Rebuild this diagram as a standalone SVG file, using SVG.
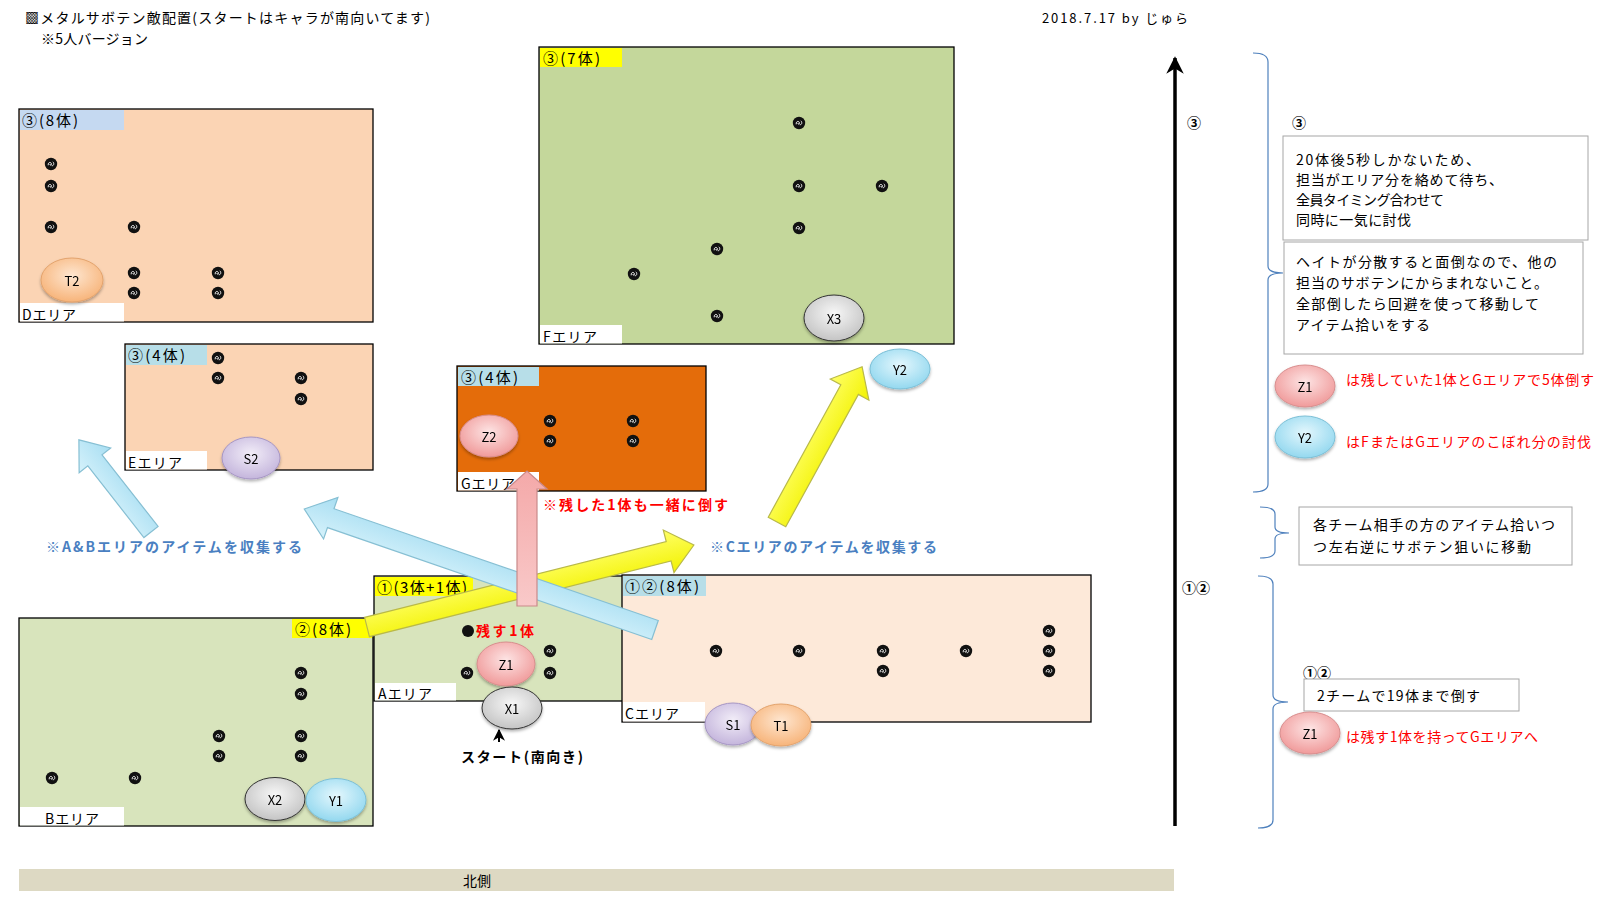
<svg xmlns="http://www.w3.org/2000/svg" xmlns:xlink="http://www.w3.org/1999/xlink" width="1598" height="898" viewBox="0 0 1598 898">
<style>
text{font-family:"Noto Sans CJK JP","Noto Sans",sans-serif;font-size:14px;fill:#000}
.area{stroke:#000;stroke-width:1.3}
.lbl{fill:#fff}
.hd{font-size:15px}
.ch{font-size:13px;text-anchor:middle;dominant-baseline:central}
.red{fill:#ff0000}
.blue{fill:#4a7fc1;font-weight:bold}
.box{fill:#fff;stroke:#a6a6a6;stroke-width:1}
.brace{fill:none;stroke:#4f81bd;stroke-width:1.2}
.note{font-size:14px}
</style>
<defs>
<g id="d"><circle r="6.2" fill="#111"/><path d="M-2.8,1.3 C-3.3,-2.2 0.6,-2.4 0.4,0.2 C0.3,1.8 -1.3,1.3 -1.1,0 M0.7,1.7 C3.1,2 3.3,-1.1 1.8,-2.2" fill="none" stroke="#fff" stroke-width="0.9"/></g>
<filter id="sh" x="-20%" y="-20%" width="140%" height="150%"><feDropShadow dx="0" dy="2" stdDeviation="1.5" flood-color="#000" flood-opacity="0.3"/></filter>
<radialGradient id="gPink" cx="50%" cy="40%" r="60%"><stop offset="0" stop-color="#fde4e4"/><stop offset="1" stop-color="#f09a9a"/></radialGradient>
<radialGradient id="gGray" cx="50%" cy="40%" r="60%"><stop offset="0" stop-color="#f7f7f7"/><stop offset="1" stop-color="#c4c4c4"/></radialGradient>
<radialGradient id="gBlue" cx="50%" cy="40%" r="60%"><stop offset="0" stop-color="#e4f7fd"/><stop offset="1" stop-color="#93d8ef"/></radialGradient>
<radialGradient id="gOrange" cx="50%" cy="40%" r="60%"><stop offset="0" stop-color="#fee6d0"/><stop offset="1" stop-color="#f7b47a"/></radialGradient>
<radialGradient id="gPurple" cx="50%" cy="40%" r="60%"><stop offset="0" stop-color="#f2edf8"/><stop offset="1" stop-color="#c4b5dc"/></radialGradient>
<linearGradient id="gY" x1="0" y1="0" x2="0" y2="1"><stop offset="0" stop-color="#ffff66"/><stop offset="1" stop-color="#f2f200"/></linearGradient>
<linearGradient id="gB" x1="0" y1="0" x2="0" y2="1"><stop offset="0" stop-color="#d6f2fb"/><stop offset="1" stop-color="#a8def2"/></linearGradient>
<linearGradient id="gP" x1="0" y1="0" x2="1" y2="0"><stop offset="0" stop-color="#f9c9c9"/><stop offset="1" stop-color="#f4a9a9"/></linearGradient>
<marker id="ah" viewBox="0 0 10 10" refX="9" refY="5" markerWidth="5" markerHeight="5" orient="auto"><path d="M0,0 L10,5 L0,10 L3,5 Z" fill="#000"/></marker>
<marker id="ahs" viewBox="0 0 10 10" refX="9" refY="5" markerWidth="6" markerHeight="6" orient="auto"><path d="M0,0 L10,5 L0,10 L3,5 Z" fill="#000"/></marker>
</defs>
<rect width="1598" height="898" fill="#fff"/>

<g id="title">
<text x="25" y="23" textLength="405" lengthAdjust="spacing">▩メタルサボテン敵配置(スタートはキャラが南向いてます)</text>
<text x="41" y="44" textLength="107" lengthAdjust="spacing">※5人バージョン</text>
<text x="1042" y="23" style="font-size:13px" textLength="146" lengthAdjust="spacing">2018.7.17 by じゅら</text>
</g>

<g id="area-D">
<rect class="area" x="19" y="109" width="354" height="213" fill="#fbd4b4"/>
<rect x="20" y="110" width="104" height="20" fill="#c5d9f1"/>
<text class="hd" x="22" y="126" textLength="56" lengthAdjust="spacing">③(8体)</text>
<rect class="lbl" x="20" y="303" width="104" height="18.5"/>
<text x="22" y="320" textLength="54" lengthAdjust="spacing">Dエリア</text>
<use href="#d" x="51" y="164"/><use href="#d" x="51" y="186"/><use href="#d" x="51" y="227"/><use href="#d" x="134" y="227"/>
<use href="#d" x="134" y="273"/><use href="#d" x="134" y="293"/><use href="#d" x="218" y="273"/><use href="#d" x="218" y="293"/>
</g>

<g id="area-E">
<rect class="area" x="125" y="344" width="248" height="126" fill="#fbd4b4"/>
<rect x="126" y="345" width="81" height="20" fill="#b7dee8"/>
<text class="hd" x="128" y="361" textLength="57" lengthAdjust="spacing">③(4体)</text>
<rect class="lbl" x="126" y="451" width="81" height="18.5"/>
<text x="128" y="468" textLength="54" lengthAdjust="spacing">Eエリア</text>
<use href="#d" x="218" y="358"/><use href="#d" x="218" y="378"/><use href="#d" x="301" y="378"/><use href="#d" x="301" y="399"/>
</g>

<g id="area-F">
<rect class="area" x="539" y="47" width="415" height="297" fill="#c4d79b"/>
<rect x="540" y="48" width="82" height="19" fill="#ffff00"/>
<text class="hd" x="543" y="64" textLength="57" lengthAdjust="spacing">③(7体)</text>
<rect class="lbl" x="540" y="325" width="82" height="18.5"/>
<text x="543" y="342" textLength="54" lengthAdjust="spacing">Fエリア</text>
<use href="#d" x="799" y="123"/><use href="#d" x="799" y="186"/><use href="#d" x="882" y="186"/><use href="#d" x="799" y="228"/>
<use href="#d" x="717" y="249"/><use href="#d" x="634" y="274"/><use href="#d" x="717" y="316"/>
</g>

<g id="area-G">
<rect class="area" x="457" y="366" width="249" height="125" fill="#e46c0a"/>
<rect x="458" y="367" width="81" height="19" fill="#b7dee8"/>
<text class="hd" x="461" y="383" textLength="57" lengthAdjust="spacing">③(4体)</text>
<rect class="lbl" x="458" y="472" width="81" height="18.5"/>
<text x="461" y="489" textLength="54" lengthAdjust="spacing">Gエリア</text>
<use href="#d" x="550" y="421"/><use href="#d" x="550" y="441"/><use href="#d" x="633" y="421"/><use href="#d" x="633" y="441"/>
</g>

<g id="area-B">
<rect class="area" x="19" y="618" width="354" height="208" fill="#d8e4bc"/>
<rect x="292" y="619" width="80" height="19" fill="#ffff00"/>
<text class="hd" x="295" y="635" textLength="56" lengthAdjust="spacing">②(8体)</text>
<rect class="lbl" x="20" y="807" width="104" height="18.5"/>
<text x="45" y="824" textLength="54" lengthAdjust="spacing">Bエリア</text>
<use href="#d" x="301" y="673"/><use href="#d" x="301" y="694"/><use href="#d" x="219" y="736"/><use href="#d" x="301" y="736"/>
<use href="#d" x="219" y="756"/><use href="#d" x="301" y="756"/><use href="#d" x="52" y="778"/><use href="#d" x="135" y="778"/>
</g>

<g id="area-A">
<rect class="area" x="374" y="576" width="249" height="125" fill="#d8e4bc"/>
<rect x="375" y="577" width="98" height="19" fill="#ffff00"/>
<text class="hd" x="377" y="593" textLength="90" lengthAdjust="spacing">①(3体+1体)</text>
<rect class="lbl" x="375" y="683" width="81" height="17.5"/>
<text x="378" y="699" textLength="54" lengthAdjust="spacing">Aエリア</text>
<circle cx="468" cy="631" r="6" fill="#111"/>
<text x="476" y="636" class="red" style="font-weight:bold" textLength="58" lengthAdjust="spacing">残す1体</text>
<use href="#d" x="550" y="651"/><use href="#d" x="550" y="673"/><use href="#d" x="467" y="673"/>
</g>

<g id="area-C">
<rect class="area" x="622" y="575" width="469" height="147" fill="#fde9d9"/>
<rect x="623" y="576" width="83" height="20" fill="#b7dee8"/>
<text class="hd" x="625" y="592" textLength="74" lengthAdjust="spacing">①②(8体)</text>
<rect class="lbl" x="623" y="702" width="82" height="19.5"/>
<text x="625" y="719" textLength="54" lengthAdjust="spacing">Cエリア</text>
<use href="#d" x="716" y="651"/><use href="#d" x="799" y="651"/><use href="#d" x="883" y="651"/><use href="#d" x="883" y="671"/>
<use href="#d" x="966" y="651"/><use href="#d" x="1049" y="631"/><use href="#d" x="1049" y="651"/><use href="#d" x="1049" y="671"/>
</g>

<g id="connectors">
<path transform="translate(151,532) rotate(-128.05)" d="M0,-9 L91,-9 L91,-20 L117,0 L91,20 L91,9 L0,9 Z" fill="url(#gB)" stroke="#86bfd3" stroke-width="1.2"/>
<path transform="translate(367,627) rotate(-14.08)" d="M0,-10 L311,-10 L311,-22 L337,0 L311,22 L311,10 L0,10 Z" fill="url(#gY)" stroke="#b9b94a" stroke-width="1.2"/>
<path transform="translate(777,522) rotate(-61.26)" d="M0,-10 L151,-10 L151,-22 L177,0 L151,22 L151,10 L0,10 Z" fill="url(#gY)" stroke="#b9b94a" stroke-width="1.2"/>
<path transform="translate(655,630) rotate(-160.97)" d="M0,-10 L343,-10 L343,-22 L371,0 L343,22 L343,10 L0,10 Z" fill="url(#gB)" stroke="#86bfd3" stroke-width="1.2"/>
<path transform="translate(527,606) rotate(-90)" d="M0,-10 L117,-10 L117,-20 L135,0 L117,20 L117,10 L0,10 Z" fill="url(#gP)" stroke="#c98a8a" stroke-width="1.2"/>
<line x1="499" y1="742" x2="499" y2="730" stroke="#000" stroke-width="2" marker-end="url(#ahs)"/>
<line x1="1175" y1="826" x2="1175" y2="58" stroke="#000" stroke-width="3.5" marker-end="url(#ah)"/>
<path class="brace" d="M1253,53 Q1268,53 1268,62 L1268,266 Q1268,273 1283,273 Q1268,273 1268,280 L1268,484 Q1268,492 1253,492"/>
<path class="brace" d="M1260,507 Q1275,507 1275,514 L1275,527 Q1275,533 1289,533 Q1275,533 1275,539 L1275,551 Q1275,558 1260,558"/>
<path class="brace" d="M1258,576 Q1273,576 1273,584 L1273,695 Q1273,702 1288,702 Q1273,702 1273,709 L1273,820 Q1273,828 1258,828"/>
</g>

<g id="labels">
<text x="543" y="510" class="red" style="font-weight:bold" textLength="185" lengthAdjust="spacing">※残した1体も一緒に倒す</text>
<text x="46" y="552" class="blue" textLength="256" lengthAdjust="spacing">※A&amp;Bエリアのアイテムを収集する</text>
<text x="710" y="552" class="blue" textLength="227" lengthAdjust="spacing">※Cエリアのアイテムを収集する</text>
<text x="461" y="762" style="font-weight:bold" textLength="122" lengthAdjust="spacing">スタート(南向き)</text>
</g>

<g id="char-T2" filter="url(#sh)"><ellipse cx="72" cy="280" rx="31" ry="22" fill="url(#gOrange)" stroke="#e3a36d"/><text class="ch" x="72" y="280">T2</text></g>
<g id="char-S2" filter="url(#sh)"><ellipse cx="251" cy="458" rx="29" ry="21" fill="url(#gPurple)" stroke="#a696c4"/><text class="ch" x="251" y="458">S2</text></g>
<g id="char-X3" filter="url(#sh)"><ellipse cx="834" cy="318" rx="30" ry="23" fill="url(#gGray)" stroke="#333"/><text class="ch" x="834" y="318">X3</text></g>
<g id="char-Y2" filter="url(#sh)"><ellipse cx="900" cy="369" rx="30" ry="20" fill="url(#gBlue)" stroke="#7cbfd6"/><text class="ch" x="900" y="369">Y2</text></g>
<g id="char-Z2" filter="url(#sh)"><ellipse cx="489" cy="436" rx="29" ry="21" fill="url(#gPink)" stroke="#d88e8e"/><text class="ch" x="489" y="436">Z2</text></g>
<g id="char-Z1" filter="url(#sh)"><ellipse cx="506" cy="664" rx="29" ry="22" fill="url(#gPink)" stroke="#d88e8e"/><text class="ch" x="506" y="664">Z1</text></g>
<g id="char-X1" filter="url(#sh)"><ellipse cx="512" cy="708" rx="30" ry="21" fill="url(#gGray)" stroke="#333"/><text class="ch" x="512" y="708">X1</text></g>
<g id="char-X2" filter="url(#sh)"><ellipse cx="275" cy="799" rx="30" ry="21.5" fill="url(#gGray)" stroke="#333"/><text class="ch" x="275" y="799">X2</text></g>
<g id="char-Y1" filter="url(#sh)"><ellipse cx="336" cy="800" rx="30" ry="21.5" fill="url(#gBlue)" stroke="#7cbfd6"/><text class="ch" x="336" y="800">Y1</text></g>
<g id="char-S1" filter="url(#sh)"><ellipse cx="733" cy="724" rx="28" ry="21" fill="url(#gPurple)" stroke="#a696c4"/><text class="ch" x="733" y="724">S1</text></g>
<g id="char-T1" filter="url(#sh)"><ellipse cx="781" cy="725" rx="30" ry="21" fill="url(#gOrange)" stroke="#e3a36d"/><text class="ch" x="781" y="725">T1</text></g>

<g id="panel-3">
<text x="1187" y="128" style="font-weight:bold">③</text>
<text x="1292" y="128" style="font-weight:bold">③</text>
<rect class="box" x="1283" y="136" width="305" height="104"/>
<text class="note" x="1296" y="165" textLength="184" lengthAdjust="spacing">20体後5秒しかないため、</text>
<text class="note" x="1296" y="185" textLength="207" lengthAdjust="spacing">担当がエリア分を絡めて待ち、</text>
<text class="note" x="1296" y="205" textLength="148" lengthAdjust="spacing">全員タイミング合わせて</text>
<text class="note" x="1296" y="225" textLength="115" lengthAdjust="spacing">同時に一気に討伐</text>
<rect class="box" x="1284" y="242" width="299" height="112"/>
<text class="note" x="1296" y="267" textLength="261" lengthAdjust="spacing">ヘイトが分散すると面倒なので、他の</text>
<text class="note" x="1296" y="288" textLength="252" lengthAdjust="spacing">担当のサボテンにからまれないこと。</text>
<text class="note" x="1296" y="309" textLength="243" lengthAdjust="spacing">全部倒したら回避を使って移動して</text>
<text class="note" x="1296" y="330" textLength="134" lengthAdjust="spacing">アイテム拾いをする</text>
<g id="legend-Z1" filter="url(#sh)"><ellipse cx="1305" cy="386" rx="30" ry="21" fill="url(#gPink)" stroke="#d88e8e"/><text class="ch" x="1305" y="386">Z1</text></g>
<text class="red note" x="1346" y="385" textLength="248" lengthAdjust="spacing">は残していた1体とGエリアで5体倒す</text>
<g id="legend-Y2" filter="url(#sh)"><ellipse cx="1305" cy="437" rx="30" ry="21" fill="url(#gBlue)" stroke="#7cbfd6"/><text class="ch" x="1305" y="437">Y2</text></g>
<text class="red note" x="1346" y="447" textLength="245" lengthAdjust="spacing">はFまたはGエリアのこぼれ分の討伐</text>
</g>

<g id="panel-mid">
<rect class="box" x="1299" y="507" width="273" height="58"/>
<text class="note" x="1313" y="530" textLength="242" lengthAdjust="spacing">各チーム相手の方のアイテム拾いつ</text>
<text class="note" x="1313" y="552" textLength="218" lengthAdjust="spacing">つ左右逆にサボテン狙いに移動</text>
</g>

<g id="panel-12">
<text x="1182" y="593" style="font-weight:bold">①②</text>
<text x="1303" y="678" style="font-weight:bold">①②</text>
<rect class="box" x="1304" y="679" width="215" height="32"/>
<text class="note" x="1317" y="701" textLength="163" lengthAdjust="spacing">2チームで19体まで倒す</text>
<g id="legend-Z1b" filter="url(#sh)"><ellipse cx="1310" cy="733" rx="30" ry="21" fill="url(#gPink)" stroke="#d88e8e"/><text class="ch" x="1310" y="733">Z1</text></g>
<text class="red note" x="1346" y="742" textLength="192" lengthAdjust="spacing">は残す1体を持ってGエリアへ</text>
</g>

<g id="north">
<rect x="19" y="869" width="1155" height="22" fill="#ddd9c3"/>
<text x="463" y="886" style="font-size:14px">北側</text>
</g>
</svg>
